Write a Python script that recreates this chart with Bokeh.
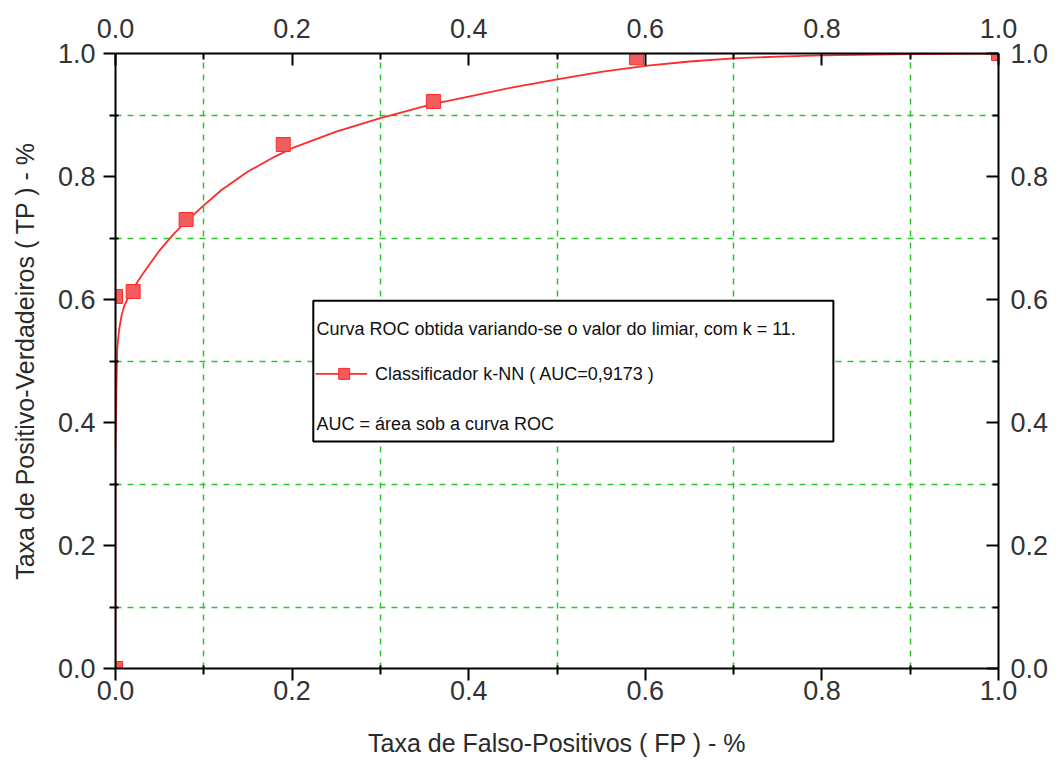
from bokeh.plotting import figure
from bokeh.models import (LinearAxis, Range1d, FixedTicker, Label,
                          ColumnDataSource, PrintfTickFormatter)
from bokeh.embed import file_html
from bokeh.resources import INLINE

# ROC curve (smooth line)
curve_fpr = [0.0, 0.0, 0.001, 0.002, 0.004, 0.007, 0.01, 0.015, 0.02, 0.03, 0.04,
             0.05, 0.065, 0.08, 0.1, 0.12, 0.15, 0.18, 0.2, 0.25, 0.3, 0.36, 0.4,
             0.45, 0.5, 0.55, 0.6, 0.65, 0.7, 0.75, 0.8, 0.9, 1.0]
curve_tpr = [0.0, 0.35, 0.45, 0.52, 0.55, 0.575, 0.59, 0.605, 0.618, 0.64, 0.66,
             0.68, 0.705, 0.727, 0.753, 0.778, 0.808, 0.832, 0.846, 0.873, 0.895,
             0.918, 0.93, 0.945, 0.958, 0.97, 0.98, 0.987, 0.992, 0.995, 0.997,
             0.999, 1.0]

# Marked operating points
point_fpr = [0.0, 0.0, 0.02, 0.08, 0.19, 0.36, 0.59, 1.0]
point_tpr = [0.0, 0.605, 0.613, 0.73, 0.852, 0.922, 0.993, 1.0]

major_ticks = [0.0, 0.2, 0.4, 0.6, 0.8, 1.0]
minor_ticks = [0.1, 0.3, 0.5, 0.7, 0.9]
grid_ticks = [0.1, 0.3, 0.5, 0.7, 0.9]

legend_title = "Curva ROC obtida variando-se o valor do limiar, com k = 11."
series_name = "Classificador k-NN ( AUC=0,9173 )"
legend_note = "AUC = área sob a curva ROC"
x_label = "Taxa de Falso-Positivos ( FP ) - %"
y_label = "Taxa de Positivo-Verdadeiros ( TP ) - %"

FONT = "Liberation Sans"
RED = "#ff2a2a"
MFILL = "#f25c5c"

p = figure(width=1058, height=761, output_backend="svg", toolbar_location=None,
           x_range=Range1d(0, 1), y_range=Range1d(0, 1),
           min_border_left=115, min_border_right=60, min_border_top=53,
           min_border_bottom=93, x_axis_location=None, y_axis_location=None)
p.outline_line_color = None
p.background_fill_color = "white"
p.border_fill_color = "white"


def style_axis(ax, inside):
    ax.ticker = FixedTicker(ticks=major_ticks, minor_ticks=minor_ticks)
    ax.formatter = PrintfTickFormatter(format="%.1f")
    ax.axis_line_color = "black"
    ax.axis_line_width = 2
    ax.major_tick_line_color = "black"
    ax.minor_tick_line_color = "black"
    ax.major_tick_line_width = 2
    ax.minor_tick_line_width = 2
    if inside:
        ax.major_tick_in = 12
        ax.major_tick_out = 0
        ax.minor_tick_in = 6
        ax.minor_tick_out = 0
    else:
        ax.major_tick_in = 0
        ax.major_tick_out = 12
        ax.minor_tick_in = 3
        ax.minor_tick_out = 6
    ax.major_label_text_font = FONT
    ax.major_label_text_font_size = "27px"
    ax.major_label_text_color = "#333333"
    ax.axis_label_text_font = FONT
    ax.axis_label_text_font_size = "25px"
    ax.axis_label_text_font_style = "normal"
    ax.axis_label_text_color = "#2a2a2a"


bottom = LinearAxis(axis_label=x_label)
style_axis(bottom, False)
bottom.major_label_standoff = 0
bottom.axis_label_standoff = 26
p.add_layout(bottom, "below")

left = LinearAxis(axis_label=y_label)
style_axis(left, False)
left.major_label_standoff = 8
left.axis_label_standoff = 16
p.add_layout(left, "left")

top = LinearAxis()
style_axis(top, True)
top.major_label_standoff = 16
p.add_layout(top, "above")

right = LinearAxis()
style_axis(right, True)
right.major_label_standoff = 12
p.add_layout(right, "right")

p.xgrid.ticker = FixedTicker(ticks=grid_ticks)
p.ygrid.ticker = FixedTicker(ticks=grid_ticks)
for g in (p.xgrid, p.ygrid):
    g.grid_line_color = "#2ec42e"
    g.grid_line_dash = "6 6"
    g.grid_line_width = 1.5

p.line(curve_fpr, curve_tpr, line_color=RED, line_width=1.8)
p.scatter(point_fpr, point_tpr, marker="square", size=14, fill_color=MFILL,
          line_color=RED, line_width=1)

# Legend box
p.quad(left=[0.224], right=[0.813], bottom=[0.369], top=[0.598],
       fill_color="white", line_color="black", line_width=2)
leg_src = ColumnDataSource(dict(x=[0.2265, 0.285], y=[0.479, 0.479]))
p.line("x", "y", source=leg_src, line_color=RED, line_width=1.8)
p.scatter([0.259], [0.479], marker="square", size=11, fill_color=MFILL,
          line_color=RED)
for xx, yy, tt in [(0.2276, 0.552, legend_title), (0.294, 0.479, series_name),
                   (0.2276, 0.398, legend_note)]:
    p.add_layout(Label(x=xx, y=yy, text=tt, text_font=FONT,
                       text_font_size="18px", text_color="#111",
                       text_baseline="middle"))

open("out.html", "w").write(file_html(p, INLINE))
